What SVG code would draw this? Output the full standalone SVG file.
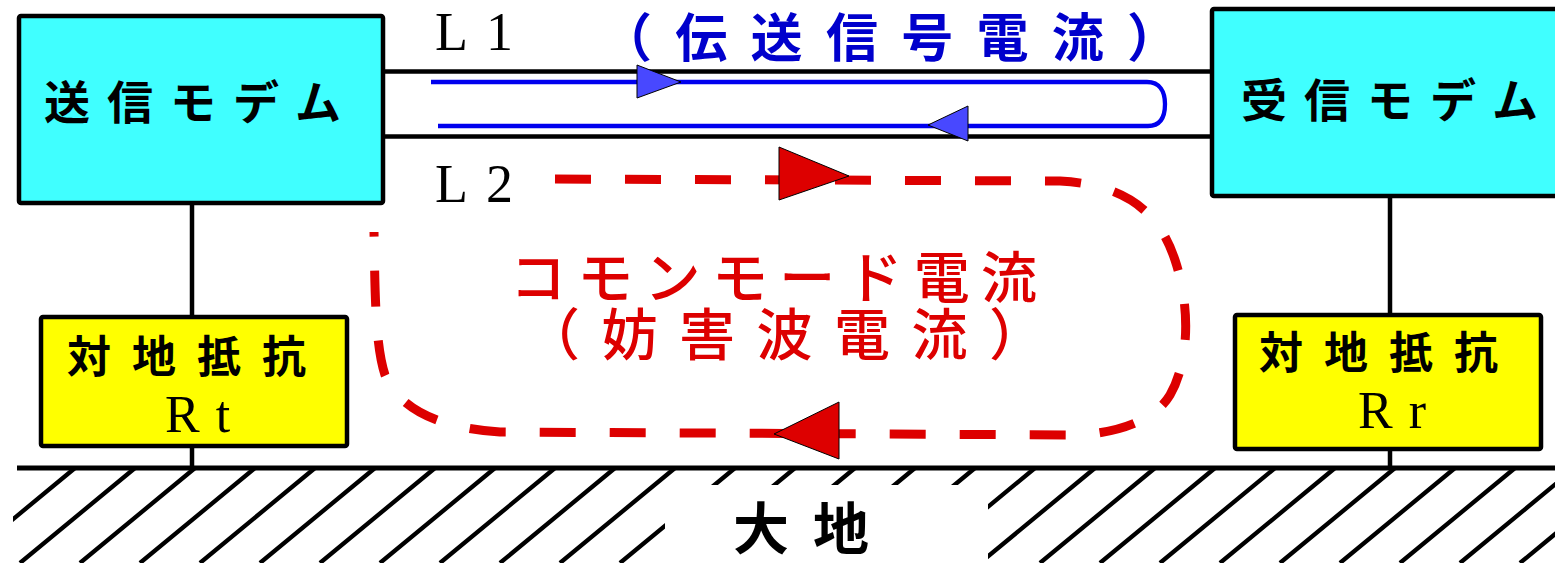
<svg xmlns="http://www.w3.org/2000/svg" width="1555" height="563" viewBox="0 0 1555 563">
<style>
.box{stroke:#000;stroke-width:4.5}
.modem{fill:#40ffff}
.res{fill:#ffff00}
.wire{stroke:#000;stroke-width:4.5;fill:none}
.jp{font-family:"Noto Sans CJK JP","Noto Sans CJK SC",sans-serif;font-weight:700}
.jpm{font-family:"Noto Sans CJK JP","Noto Sans CJK SC",sans-serif;font-weight:500}
.ser{font-family:"Liberation Serif",serif;fill:#000}
.hatch{stroke:#000;stroke-width:4.3;fill:none}
</style>
<rect width="1555" height="563" fill="#fff"/>
<g id="ground">
<path class="hatch" d="M75,468L-40,563M135,468L20,563M195,468L80,563M255,468L140,563M315,468L200,563M375,468L260,563M435,468L320,563M495,468L380,563M555,468L440,563M615,468L500,563M675,468L560,563M735,468L620,563M795,468L680,563M855,468L740,563M915,468L800,563M975,468L860,563M1035,468L920,563M1095,468L980,563M1155,468L1040,563M1215,468L1100,563M1275,468L1160,563M1335,468L1220,563M1395,468L1280,563M1455,468L1340,563M1515,468L1400,563M1575,468L1460,563M1635,468L1520,563M1695,468L1580,563"/>
<rect x="0" y="468" width="13" height="95" fill="#fff"/>
<rect x="665" y="485" width="323" height="78" fill="#fff"/>
<line x1="17" y1="468" x2="1555" y2="468" stroke="#000" stroke-width="5"/>
<text class="jp" x="733" y="549" font-size="56" letter-spacing="24" fill="#000">大地</text>
</g>
<g id="connectors">
<line class="wire" x1="384" y1="71.5" x2="1212" y2="71.5"/>
<line class="wire" x1="384" y1="136.5" x2="1212" y2="136.5"/>
<line class="wire" x1="192" y1="203" x2="192" y2="317"/>
<line class="wire" x1="192" y1="446" x2="192" y2="468"/>
<line class="wire" x1="1390" y1="196" x2="1390" y2="315"/>
<line class="wire" x1="1390" y1="449" x2="1390" y2="468"/>
<path d="M431,82 L1147,82 C1160,82 1165,92 1165,104 C1165,118 1160,126 1148,126 L438,126" fill="none" stroke="#0000ee" stroke-width="4.3"/>
<polygon points="637,65 681,82 637,98" fill="#4848ff" stroke="#000" stroke-width="1"/>
<polygon points="968,106 928,125 968,141" fill="#4848ff" stroke="#000" stroke-width="1"/>
<path d="M555,179 L1060,181 C1130,185 1160,215 1175,260 C1190,305 1190,360 1170,395 C1155,420 1120,432 1080,435 L500,432 C440,428 400,410 385,375 C375,345 375,290 374,232" fill="none" stroke="#dd0000" stroke-width="9" stroke-dasharray="36 34"/>
<polygon points="779,147 849,176 779,200" fill="#dd0000" stroke="#000" stroke-width="1"/>
<polygon points="774,434 839,402 839,459" fill="#dd0000" stroke="#000" stroke-width="1"/>
</g>
<g id="send-modem">
<rect class="box modem" x="19" y="16" width="364" height="187" rx="2"/>
<text class="jp" x="44" y="119" font-size="46" letter-spacing="17" fill="#000">送信モデム</text>
</g>
<g id="recv-modem">
<rect class="box modem" x="1212" y="9" width="360" height="187" rx="2"/>
<text class="jp" x="1241" y="117" font-size="46" letter-spacing="17" fill="#000">受信モデム</text>
</g>
<g id="rt">
<rect class="box res" x="41" y="317" width="306" height="129" rx="2"/>
<text class="jp" x="67" y="373" font-size="44" letter-spacing="21" fill="#000">対地抵抗</text>
<text class="ser" x="165" y="432" font-size="52" letter-spacing="16">Rt</text>
</g>
<g id="rr">
<rect class="box res" x="1235" y="315" width="306" height="134" rx="2"/>
<text class="jp" x="1259" y="369" font-size="44" letter-spacing="21" fill="#000">対地抵抗</text>
<text class="ser" x="1358" y="428" font-size="52" letter-spacing="16">Rr</text>
</g>
<g id="labels">
<text class="ser" x="435" y="50" font-size="54" letter-spacing="18">L1</text>
<text class="ser" x="435" y="202" font-size="54" letter-spacing="18">L2</text>
<text class="jp" x="600" y="57" font-size="52" letter-spacing="23.3" fill="#0000cc">（伝送信号電流）</text>
<text class="jpm" font-size="56" fill="#dd0000"><tspan x="510" y="298" letter-spacing="11.3">コモンモード電流</tspan><tspan x="524" y="355" letter-spacing="21.5">（妨害波電流）</tspan></text>
</g>
</svg>
